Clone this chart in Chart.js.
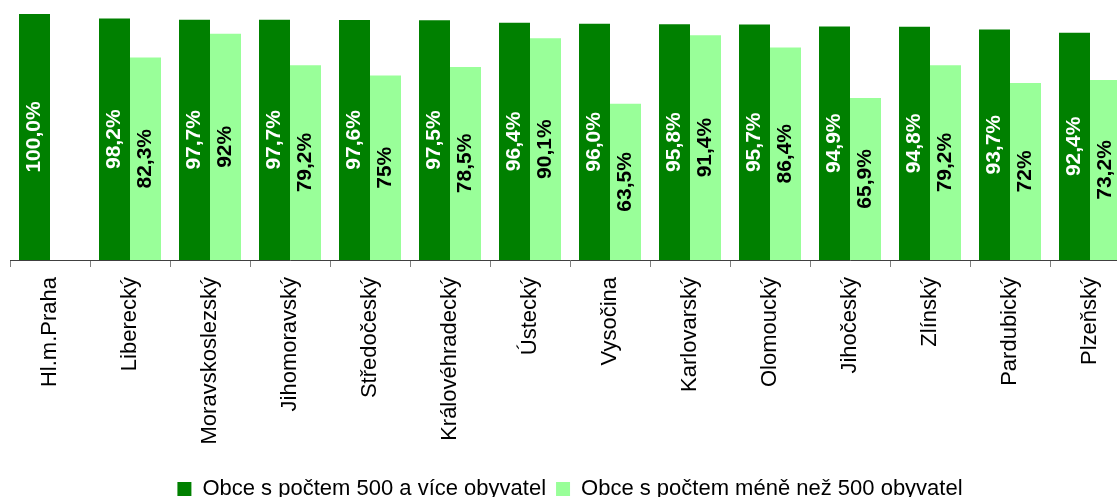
<!DOCTYPE html>
<html>
<head>
<meta charset="utf-8">
<script src="https://cdn.jsdelivr.net/npm/chart.js@4"></script>
<style>
  html, body { margin: 0; padding: 0; background: #fff; overflow: hidden; }
  #wrap { width: 1140px; height: 510px; position: relative; }
</style>
</head>
<body>
<div id="wrap"><canvas id="chart"></canvas></div>
<script>
const kraje = ["Hl.m.Praha", "Liberecký", "Moravskoslezský", "Jihomoravský", "Středočeský",
  "Královéhradecký", "Ústecký", "Vysočina", "Karlovarský", "Olomoucký", "Jihočeský",
  "Zlínský", "Pardubický", "Plzeňský"];

const obce500aVice = [100.0, 98.2, 97.7, 97.7, 97.6, 97.5, 96.4, 96.0, 95.8, 95.7, 94.9, 94.8, 93.7, 92.4];
const obceMene500 = [null, 82.3, 92, 79.2, 75, 78.5, 90.1, 63.5, 91.4, 86.4, 65.9, 79.2, 72, 73.2];

const seriesNames = ["Obce s počtem 500 a více obyvatel", "Obce s počtem méně než 500 obyvatel"];

const font = 'Arial, "Liberation Sans", sans-serif';

// first series always shows one decimal, second one only when it has one
function fmt(v, i) {
  if (i === 0) return v.toFixed(1).replace(".", ",") + "%";
  return String(v).replace(".", ",") + "%";
}

const barLabels = {
  id: "barLabels",
  afterDatasetsDraw(chart) {
    const ctx = chart.ctx;
    chart.data.datasets.forEach((ds, i) => {
      const meta = chart.getDatasetMeta(i);
      meta.data.forEach((bar, j) => {
        const v = ds.data[j];
        if (v == null) return;
        ctx.save();
        ctx.translate(bar.x, (bar.y + bar.base) / 2);
        ctx.rotate(-Math.PI / 2);
        ctx.font = "bold 21px " + font;
        ctx.fillStyle = i === 0 ? "#ffffff" : "#000000";
        ctx.textAlign = "center";
        ctx.textBaseline = "middle";
        ctx.fillText(fmt(v, i), 0, 0);
        ctx.restore();
      });
    });
  }
};

new Chart(document.getElementById("chart"), {
  type: "bar",
  data: {
    labels: kraje,
    datasets: [
      { label: seriesNames[0], data: obce500aVice, backgroundColor: "#008000" },
      { label: seriesNames[1], data: obceMene500, backgroundColor: "#99ff99" }
    ]
  },
  options: {
    responsive: true,
    maintainAspectRatio: false,
    animation: false,
    categoryPercentage: 0.775,
    barPercentage: 1,
    layout: { padding: { left: 10, right: 10, top: 14, bottom: 0 } },
    scales: {
      x: {
        grid: { display: true, drawOnChartArea: false, drawTicks: true, tickLength: 7, color: "#808080", offset: true },
        border: { display: true, color: "#404040", width: 1 },
        ticks: { minRotation: 90, maxRotation: 90, padding: 10, color: "#000", font: { family: font, size: 22 } },
        afterFit: (scale) => { scale.height = 208; }
      },
      y: { display: false, min: 0, max: 100 }
    },
    plugins: {
      legend: {
        position: "bottom",
        labels: { boxWidth: 14, boxHeight: 14, padding: 10, color: "#000", font: { family: font, size: 22 } }
      },
      tooltip: { enabled: false }
    }
  },
  plugins: [barLabels]
});
</script>
</body>
</html>
